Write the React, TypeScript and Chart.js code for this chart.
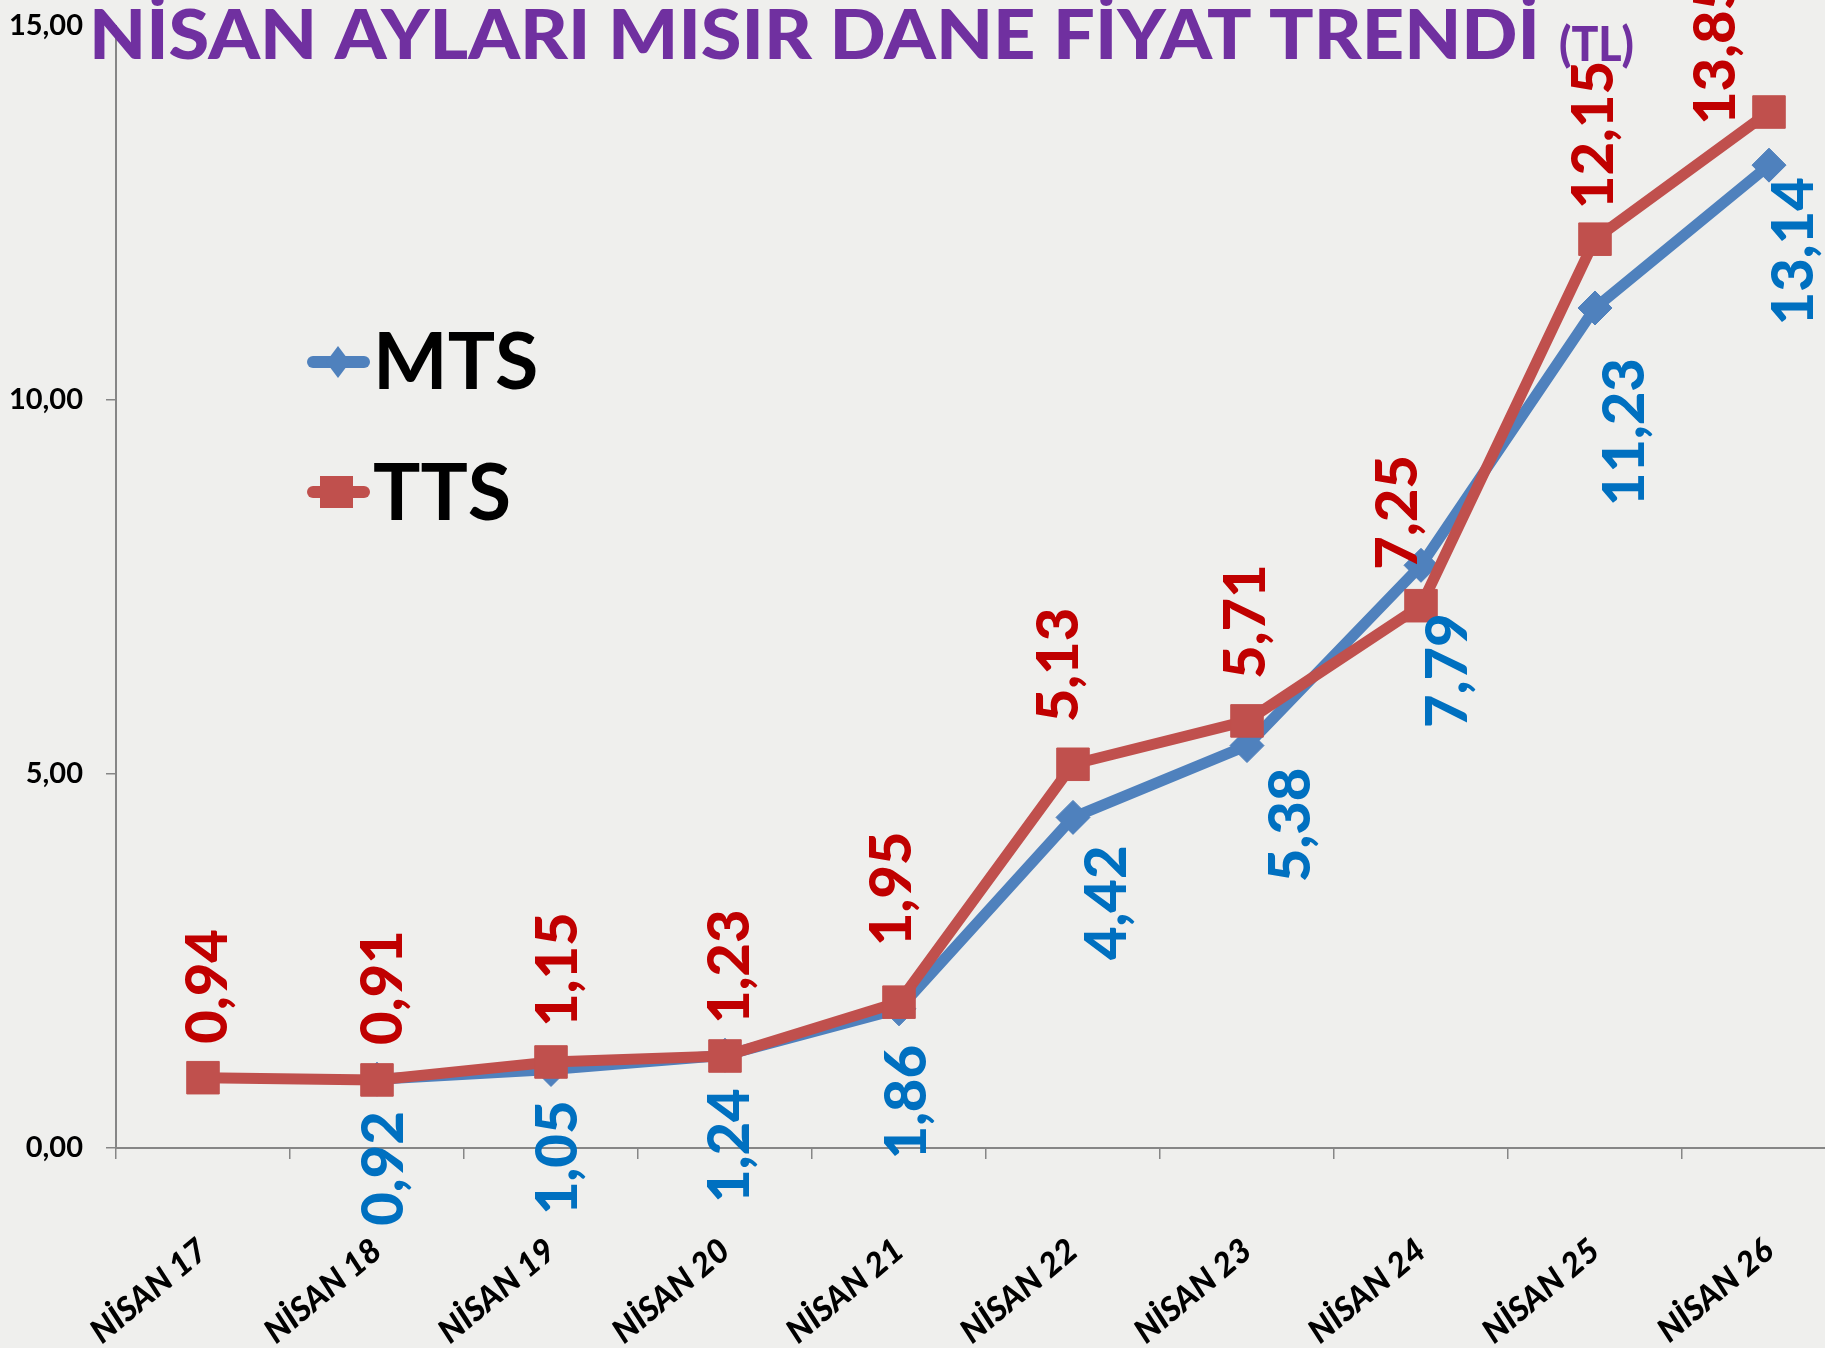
import React, { useEffect, useRef } from "react";
import { Chart, registerables } from "chart.js";

Chart.register(...registerables);

// ---- data ----
const CATEGORIES = [
  "NİSAN 17",
  "NİSAN 18",
  "NİSAN 19",
  "NİSAN 20",
  "NİSAN 21",
  "NİSAN 22",
  "NİSAN 23",
  "NİSAN 24",
  "NİSAN 25",
  "NİSAN 26",
];
const SERIES_NAMES = ["MTS", "TTS"];
const MTS_VALUES: (number | null)[] = [null, 0.92, 1.05, 1.24, 1.86, 4.42, 5.38, 7.79, 11.23, 13.14];
const TTS_VALUES: number[] = [0.94, 0.91, 1.15, 1.23, 1.95, 5.13, 5.71, 7.25, 12.15, 13.85];
const Y_TICKS = [0, 5, 10, 15];
const TITLE = "NİSAN AYLARI MISIR DANE FİYAT TRENDİ";
const TITLE_UNIT = "(TL)";

// ---- label placement (pixel nudges of the hand-placed data labels) ----
const MTS_LABEL_DX = [0, 5, 5, 3, 6, 32, 42, 25, 28, 23];
const MTS_LABEL_GAP = [30, 32, 31, 33, 36, 28, 22, 48, 50, 12];
const TTS_LABEL_DX = [3, 4, 5, 3, -9, -16, -3, -25, -3, -55];
const TTS_LABEL_GAP = [34, 35, 35, 32, 56, 42, 42, 36, 30, -13];

// ---- styles ----
const BG = "#EFEFED";
const MTS_COLOR = "#4F81BD";
const TTS_COLOR = "#C0504D";
const MTS_LABEL_COLOR = "#0070C0";
const TTS_LABEL_COLOR = "#C00000";
const TITLE_COLOR = "#7030A0";
const AXIS_COLOR = "#868686";
const FONT = "Lato, 'Open Sans', 'DejaVu Sans', sans-serif";

const fmt = (v: number) => v.toFixed(2).replace(".", ",");

const bgPlugin = {
  id: "bg",
  beforeDraw(chart: any) {
    const { ctx, width, height } = chart;
    ctx.save();
    ctx.fillStyle = BG;
    ctx.fillRect(0, 0, width, height);
    ctx.restore();
  },
};

const labelsPlugin = {
  id: "pointLabels",
  afterDatasetsDraw(chart: any) {
    const ctx = chart.ctx;
    const conf = [
      { idx: 0, color: MTS_LABEL_COLOR, dx: MTS_LABEL_DX, gap: MTS_LABEL_GAP, below: true },
      { idx: 1, color: TTS_LABEL_COLOR, dx: TTS_LABEL_DX, gap: TTS_LABEL_GAP, below: false },
    ];
    ctx.save();
    ctx.font = `900 58px ${FONT}`;
    ctx.textBaseline = "middle";
    for (const c of conf) {
      const meta = chart.getDatasetMeta(c.idx);
      const data = chart.data.datasets[c.idx].data;
      meta.data.forEach((pt: any, i: number) => {
        const v = data[i];
        if (v === null || v === undefined || pt.skip) return;
        const x = pt.x + c.dx[i];
        const y = c.below ? pt.y + c.gap[i] : pt.y - c.gap[i];
        ctx.save();
        ctx.translate(x, y);
        ctx.rotate(-Math.PI / 2);
        ctx.fillStyle = c.color;
        ctx.textAlign = c.below ? "right" : "left";
        ctx.fillText(fmt(v as number), 0, 2);
        ctx.restore();
      });
    }
    ctx.restore();
  },
};

const legendTitlePlugin = {
  id: "legendTitle",
  afterDraw(chart: any) {
    const ctx = chart.ctx;
    ctx.save();
    // title
    ctx.fillStyle = TITLE_COLOR;
    ctx.textBaseline = "alphabetic";
    ctx.textAlign = "left";
    ctx.font = `900 68px ${FONT}`;
    const w = ctx.measureText(TITLE).width;
    const targetW = 1451;
    ctx.save();
    ctx.translate(89, 59);
    ctx.scale(targetW / w, 1);
    ctx.fillText(TITLE, 0, 0);
    ctx.restore();
    ctx.font = `900 47px ${FONT}`;
    const w2 = ctx.measureText(TITLE_UNIT).width;
    ctx.save();
    ctx.translate(1559, 61);
    ctx.scale(75 / w2, 1);
    ctx.fillText(TITLE_UNIT, 0, 0);
    ctx.restore();

    // legend
    const ds = chart.data.datasets;
    const rows = [
      { y: 362, textY: 389, shape: "diamond" },
      { y: 492, textY: 520, shape: "square" },
    ];
    rows.forEach((r, i) => {
      const color = ds[i].borderColor;
      ctx.strokeStyle = color;
      ctx.lineWidth = 12;
      ctx.lineCap = "round";
      ctx.beginPath();
      ctx.moveTo(313, r.y);
      ctx.lineTo(364, r.y);
      ctx.stroke();
      ctx.fillStyle = color;
      ctx.beginPath();
      if (r.shape === "diamond") {
        ctx.moveTo(338, r.y - 16);
        ctx.lineTo(350, r.y);
        ctx.lineTo(338, r.y + 16);
        ctx.lineTo(326, r.y);
        ctx.closePath();
      } else {
        ctx.rect(320, r.y - 16, 33, 32);
      }
      ctx.fill();
      ctx.fillStyle = "#000000";
      ctx.font = `bold 79px ${FONT}`;
      ctx.textAlign = "left";
      ctx.fillText(ds[i].label, 373, r.textY);
    });
    ctx.restore();
  },
};

export default function App() {
  const ref = useRef<HTMLCanvasElement | null>(null);

  useEffect(() => {
    if (!ref.current) return;
    const chart = new Chart(ref.current, {
      type: "line",
      data: {
        labels: CATEGORIES,
        datasets: [
          {
            label: SERIES_NAMES[0],
            data: MTS_VALUES,
            borderColor: MTS_COLOR,
            backgroundColor: MTS_COLOR,
            borderWidth: 11,
            pointStyle: "rectRot",
            pointRadius: 17,
            pointBorderWidth: 1,
            pointBorderColor: MTS_COLOR,
            pointBackgroundColor: MTS_COLOR,
            tension: 0,
            order: 2,
          },
          {
            label: SERIES_NAMES[1],
            data: TTS_VALUES,
            borderColor: TTS_COLOR,
            backgroundColor: TTS_COLOR,
            borderWidth: 11,
            pointStyle: "rect",
            pointRadius: 23,
            pointBorderWidth: 1,
            pointBorderColor: TTS_COLOR,
            pointBackgroundColor: TTS_COLOR,
            tension: 0,
            order: 1,
          },
        ],
      },
      options: {
        responsive: false,
        animation: false,
        events: [],
        layout: { padding: { top: 26, right: 10, left: 0, bottom: 0 } },
        plugins: {
          legend: { display: false },
          title: { display: false },
          tooltip: { enabled: false },
        },
        scales: {
          x: {
            type: "category",
            offset: true,
            grid: {
              offset: true,
              drawOnChartArea: false,
              drawTicks: true,
              tickLength: 11,
              color: AXIS_COLOR,
              lineWidth: 1.5,
            },
            border: { color: AXIS_COLOR, width: 2 },
            ticks: {
              color: "#000000",
              font: { family: FONT, size: 33, weight: "900", style: "italic" },
              minRotation: 40,
              maxRotation: 40,
              padding: 72,
              autoSkip: false,
            },
            afterFit: (s: any) => {
              s.height = 200;
            },
          },
          y: {
            min: 0,
            max: 15,
            afterBuildTicks: (s: any) => {
              s.ticks = Y_TICKS.map((v) => ({ value: v }));
            },
            grid: {
              drawOnChartArea: false,
              drawTicks: true,
              tickLength: 10,
              color: AXIS_COLOR,
              lineWidth: 1.5,
            },
            border: { color: AXIS_COLOR, width: 2 },
            ticks: {
              color: "#000000",
              font: { family: FONT, size: 29, weight: "bold" },
              padding: 23,
              callback: (v: any) => fmt(Number(v)),
            },
            afterFit: (s: any) => {
              s.width = 116;
              s.paddingTop = 0;
              s.paddingBottom = 0;
            },
          },
        },
      },
      plugins: [bgPlugin, labelsPlugin, legendTitlePlugin],
    });
    const fonts: any = (document as any).fonts;
    if (fonts && fonts.load) {
      Promise.all([
        fonts.load(`900 58px Lato`),
        fonts.load(`bold 58px Lato`),
        fonts.load(`italic 900 33px Lato`),
      ])
        .then(() => chart.update())
        .catch(() => {});
    }
    return () => chart.destroy();
  }, []);

  return (
    <div
      style={{
        position: "fixed",
        left: 0,
        top: 0,
        width: 1825,
        height: 1348,
        overflow: "hidden",
        background: BG,
      }}
    >
      <canvas ref={ref} width={1880} height={1348} style={{ display: "block" }} />
    </div>
  );
}
